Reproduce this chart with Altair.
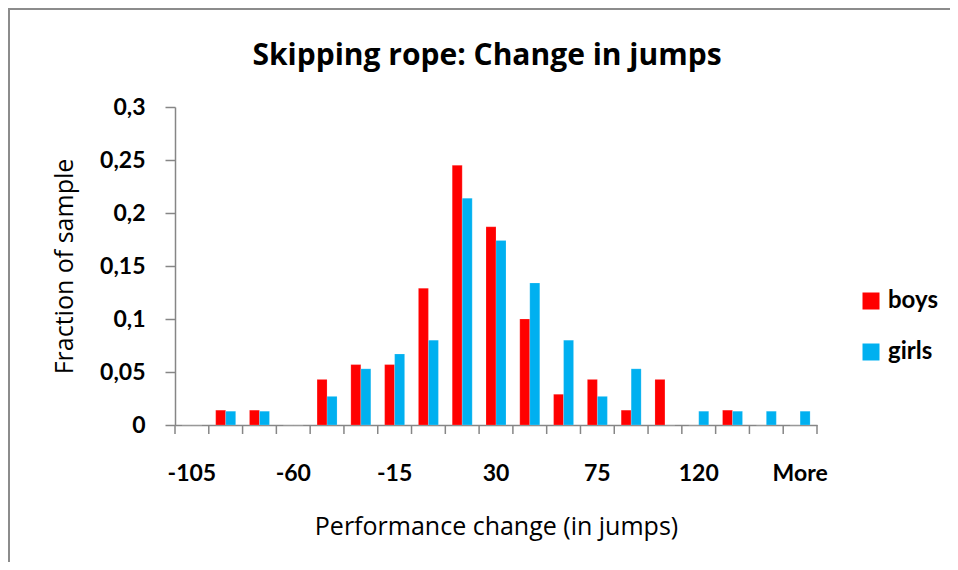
import altair as alt
import pandas as pd

# ---- data ----
categories = ["-105", "-90", "-75", "-60", "-45", "-30", "-15", "0", "15", "30",
              "45", "60", "75", "90", "105", "120", "135", "150", "More"]
boys = [0, 0.014, 0.014, 0, 0.043, 0.057, 0.057, 0.129, 0.245, 0.187,
        0.100, 0.029, 0.043, 0.014, 0.043, 0, 0.014, 0, 0]
girls = [0, 0.013, 0.013, 0, 0.027, 0.053, 0.067, 0.080, 0.214, 0.174,
         0.134, 0.080, 0.027, 0.053, 0, 0.013, 0.013, 0.013, 0.013]
series = ["boys", "girls"]
colors = ["#FF0000", "#00B0F0"]
shown_labels = ["-105", "-60", "-15", "30", "75", "120", "More"]
y_ticks = [0, 0.05, 0.1, 0.15, 0.2, 0.25, 0.3]
title_text = "Skipping rope: Change in jumps"
x_title = "Performance change (in jumps)"
y_title = "Fraction of sample"

rows = []
for i, c in enumerate(categories):
    rows.append({"category": c, "series": "boys", "value": boys[i]})
    rows.append({"category": c, "series": "girls", "value": girls[i]})
df = pd.DataFrame(rows)

FONT = "Lato"
TFONT = "Open Sans"
GRAY = "#868686"
W, H = 642, 318

xscale = alt.Scale(domain=categories, paddingInner=0, paddingOuter=0)
x_axis = alt.Axis(
    values=shown_labels, ticks=False, tickSize=0, labelAngle=0,
    labelFont=FONT, labelFontSize=23, labelFontWeight="bold", labelColor="#000000",
    labelBaseline="alphabetic", labelPadding=55,
    domainColor=GRAY, domainWidth=1.5, grid=False,
    title=x_title, titleFont=TFONT, titleFontSize=25, titleFontWeight="normal",
    titleColor="#000000", titleX=W / 2, titleY=109, titleBaseline="alphabetic",
    titleAlign="center",
)
y_axis = alt.Axis(
    values=y_ticks, format=".2~f", labelExpr="replace(datum.label, '.', ',')",
    tickSize=10, tickColor=GRAY, tickWidth=1.5, domainColor=GRAY, domainWidth=1.5,
    grid=False, labelFont=FONT, labelFontSize=23, labelFontWeight="bold",
    labelColor="#000000", labelPadding=20,
    title=y_title, titleFont=TFONT, titleFontSize=25, titleFontWeight="normal",
    titleColor="#000000", titleAngle=270, titleX=-103, titleY=H / 2,
    titleBaseline="alphabetic", titleAlign="center",
)

bars = alt.Chart(df).mark_bar(stroke="#ffffff", strokeOpacity=0.35, strokeWidth=0.5).encode(
    x=alt.X("category:N", sort=categories, scale=xscale, axis=x_axis),
    xOffset=alt.XOffset("series:N", sort=series,
                        scale=alt.Scale(domain=series, paddingInner=0, paddingOuter=0.69)),
    y=alt.Y("value:Q", scale=alt.Scale(domain=[0, 0.3], nice=False), axis=y_axis),
    color=alt.Color("series:N", sort=series,
                    scale=alt.Scale(domain=series, range=colors),
                    legend=alt.Legend(orient="none", legendX=684, legendY=182,
                                      title=None, symbolType="square", symbolSize=289,
                                      symbolStrokeWidth=0, labelFont=FONT,
                                      labelFontSize=24, labelFontWeight="bold",
                                      labelColor="#000000", labelOffset=5,
                                      rowPadding=27, padding=0)),
)

tick_df = pd.DataFrame({"category": categories})
ticks_start = alt.Chart(tick_df).mark_rule(color=GRAY, strokeWidth=1.5).encode(
    x=alt.X("category:N", sort=categories, scale=xscale, axis=x_axis, bandPosition=0),
    y=alt.value(H), y2=alt.value(H + 9),
)
ticks_end = alt.Chart(pd.DataFrame({"category": [categories[-1]]})).mark_rule(
    color=GRAY, strokeWidth=1.5).encode(
    x=alt.X("category:N", sort=categories, scale=xscale, axis=x_axis, bandPosition=1),
    y=alt.value(H), y2=alt.value(H + 9),
)

border = alt.Chart(pd.DataFrame({"b": [1]})).mark_rect(
    fillOpacity=0, stroke="#8c8c8c", strokeWidth=2).encode(
    x=alt.value(-166), x2=alt.value(900), y=alt.value(-98), y2=alt.value(600),
)

title = alt.Chart(pd.DataFrame({"t": [title_text]})).mark_text(
    font=TFONT, fontSize=30, fontWeight="bold", color="#000000",
    align="center", baseline="alphabetic").encode(
    text="t:N", x=alt.value(312), y=alt.value(-42),
)

chart = alt.layer(border, bars, ticks_start, ticks_end, title).properties(
    width=W, height=H,
    padding={"left": 167, "top": 99, "right": 133, "bottom": 137},
    autosize=alt.AutoSizeParams(type="none"),
).configure_view(stroke=None)

chart.save("out.html", embed_options={"renderer": "svg", "actions": False})
